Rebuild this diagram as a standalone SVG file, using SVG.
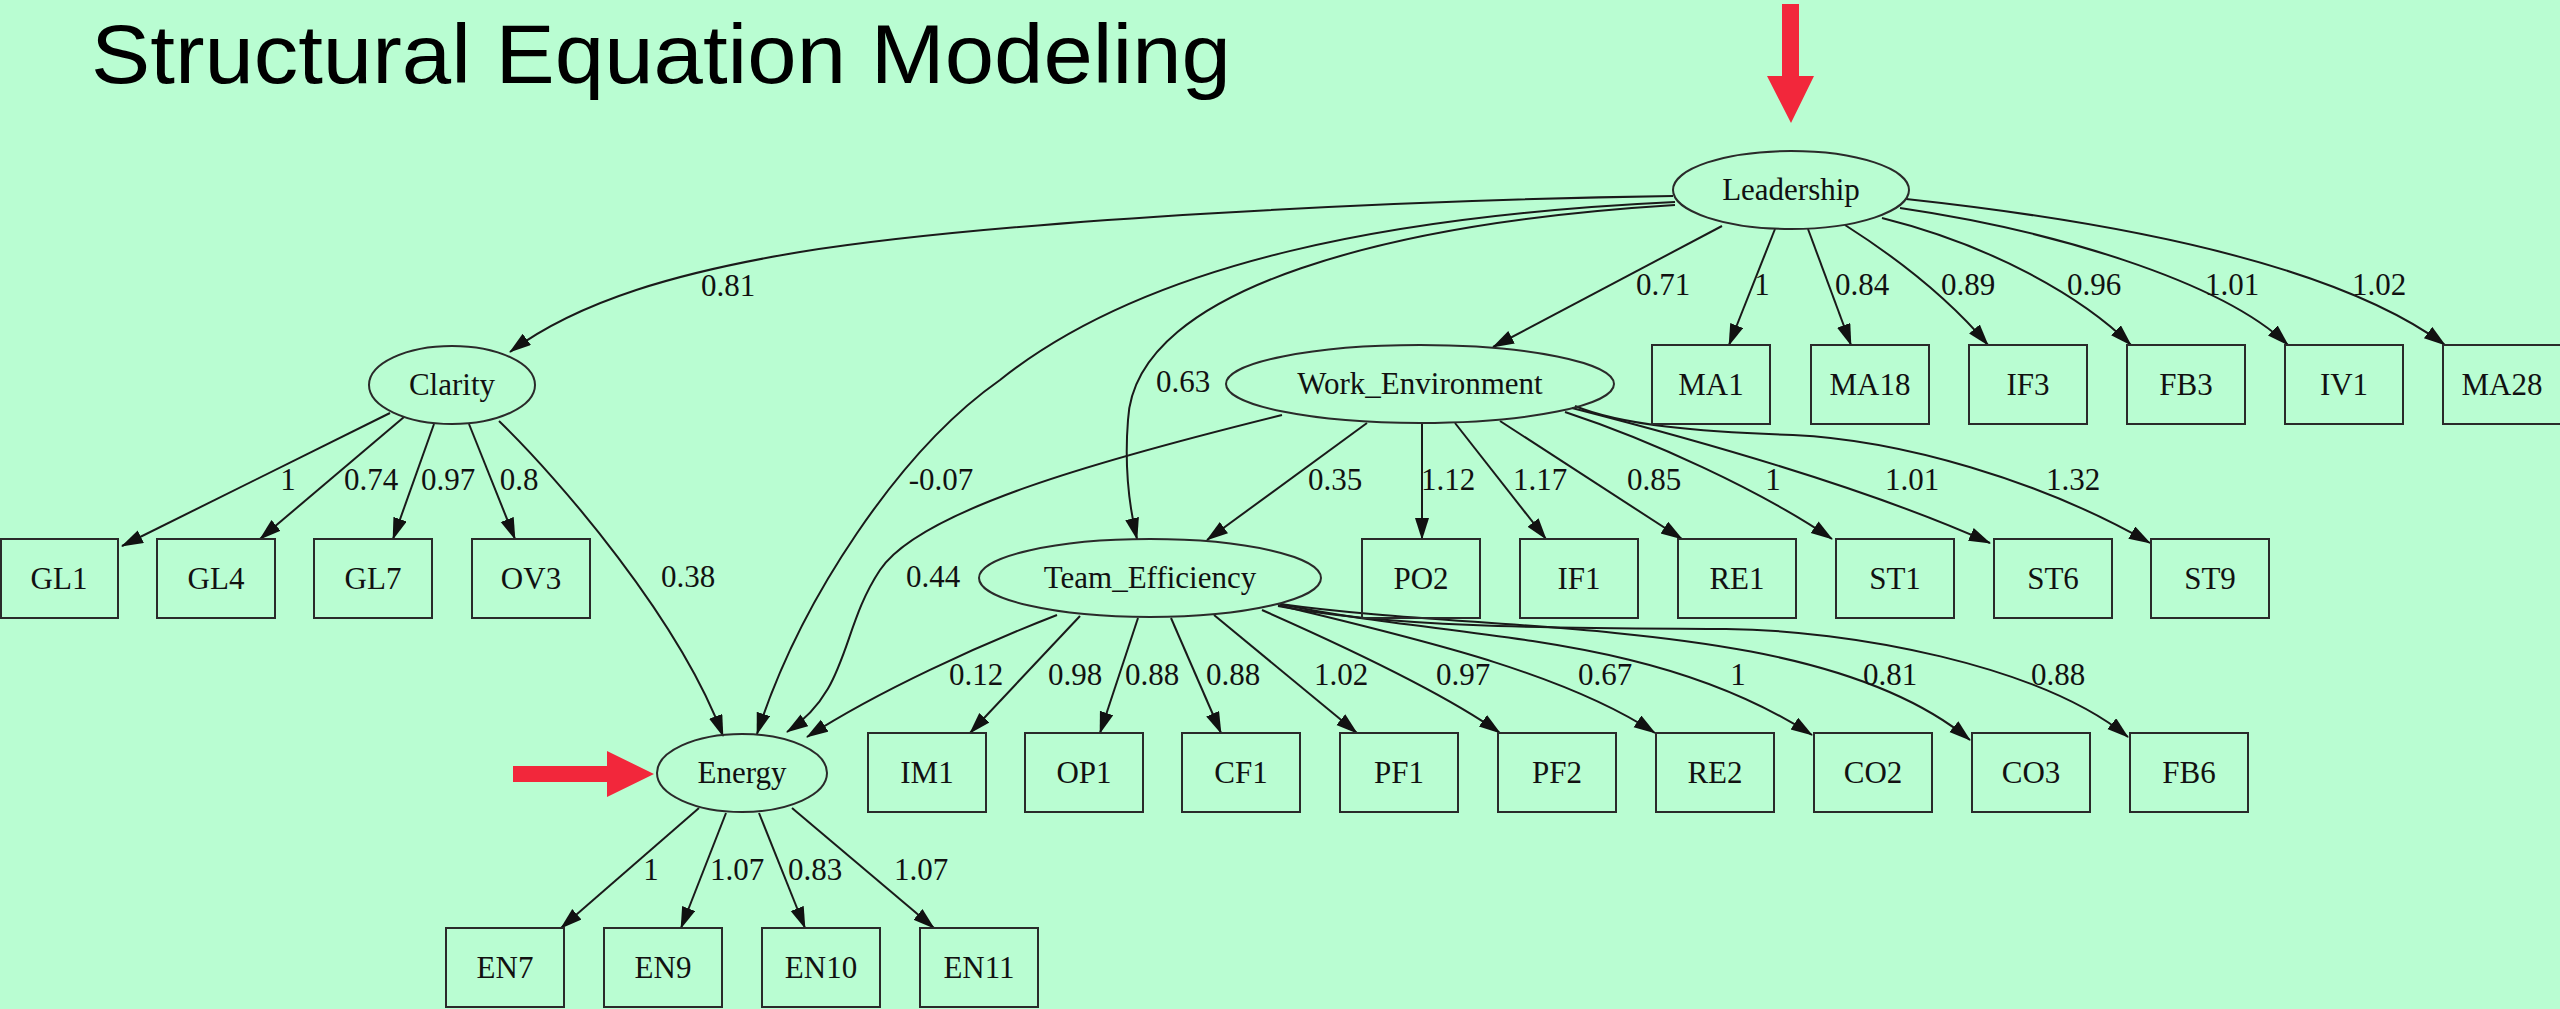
<svg xmlns="http://www.w3.org/2000/svg" width="2560" height="1009" viewBox="0 0 2560 1009">
<defs>
<style>
.bg{fill:#b9fdd2}
.n{fill:none;stroke:#2a2a2a;stroke-width:2}
.t{font-family:"Liberation Serif","Times New Roman",serif;font-size:31px;fill:#111;text-anchor:middle}
.e path{fill:none;stroke:#1a1a1a;stroke-width:2;marker-end:url(#ah)}
.l{font-family:"Liberation Serif","Times New Roman",serif;font-size:31px;fill:#111;text-anchor:middle}
.red{fill:#f2273b}
</style>
<marker id="ah" markerUnits="userSpaceOnUse" markerWidth="24" markerHeight="16" refX="21" refY="7" orient="auto">
<path d="M0,0 L22,7 L0,14 z" fill="#111"/>
</marker>
</defs>
<rect class="bg" x="0" y="0" width="2560" height="1009"/>
<text x="91" y="83" font-family="'Liberation Sans',Arial,sans-serif" font-size="84" fill="#000" textLength="1140" lengthAdjust="spacingAndGlyphs">Structural Equation Modeling</text>

<g id="connectors" class="e">
<path d="M1673,196 C1400,200 1000,220 800,252 C680,272 580,300 510,352"/>
<path d="M1675,202 C1400,215 1150,260 1000,380 C900,450 800,600 757,734"/>
<path d="M1675,205 C1400,222 1135,285 1128,420 C1124,470 1130,510 1137,539"/>
<path d="M1722,226 L1493,347"/>
<path d="M1775,229 L1729,345"/>
<path d="M1808,229 L1851,345"/>
<path d="M1845,225 C1900,260 1950,300 1988,345"/>
<path d="M1882,218 C1990,245 2080,295 2131,345"/>
<path d="M1900,208 C2050,230 2220,280 2288,345"/>
<path d="M1906,199 C2100,220 2330,260 2445,345"/>
<path d="M1367,423 L1207,540"/>
<path d="M1282,415 C1100,460 920,510 880,570 C840,630 850,690 787,732"/>
<path d="M1422,424 L1422,539"/>
<path d="M1455,423 L1546,539"/>
<path d="M1500,421 L1682,539"/>
<path d="M1565,412 C1650,440 1760,490 1832,539"/>
<path d="M1572,408 C1650,428 1850,480 1990,543"/>
<path d="M1575,406 C1620,425 1700,432 1793,435 C1900,440 2040,480 2150,543"/>
<path d="M1057,615 C980,645 880,690 807,737"/>
<path d="M1080,616 L970,733"/>
<path d="M1138,618 L1100,733"/>
<path d="M1171,618 L1221,733"/>
<path d="M1214,615 L1357,733"/>
<path d="M1262,610 C1330,640 1440,690 1500,733"/>
<path d="M1278,605 C1400,635 1560,670 1655,733"/>
<path d="M1280,604 C1450,640 1650,630 1812,735"/>
<path d="M1280,604 C1500,635 1820,615 1970,740"/>
<path d="M1278,606 C1400,630 1600,628 1726,629 C1850,630 2040,665 2128,737"/>
<path d="M699,808 L561,928"/>
<path d="M726,813 L681,928"/>
<path d="M759,813 L805,928"/>
<path d="M792,808 L934,928"/>
<path d="M390,413 L122,546"/>
<path d="M404,417 L260,539"/>
<path d="M434,424 L393,539"/>
<path d="M469,424 L515,539"/>
<path d="M499,421 C560,480 680,620 723,736"/>
</g>

<g id="edge-labels">
<text class="l" x="728" y="296">0.81</text>
<text class="l" x="941" y="490">-0.07</text>
<text class="l" x="1183" y="392">0.63</text>
<text class="l" x="1663" y="295">0.71</text>
<text class="l" x="1762" y="295">1</text>
<text class="l" x="1862" y="295">0.84</text>
<text class="l" x="1968" y="295">0.89</text>
<text class="l" x="2094" y="295">0.96</text>
<text class="l" x="2232" y="295">1.01</text>
<text class="l" x="2379" y="295">1.02</text>
<text class="l" x="1335" y="490">0.35</text>
<text class="l" x="933" y="587">0.44</text>
<text class="l" x="1448" y="490">1.12</text>
<text class="l" x="1540" y="490">1.17</text>
<text class="l" x="1654" y="490">0.85</text>
<text class="l" x="1773" y="490">1</text>
<text class="l" x="1912" y="490">1.01</text>
<text class="l" x="2073" y="490">1.32</text>
<text class="l" x="976" y="685">0.12</text>
<text class="l" x="1075" y="685">0.98</text>
<text class="l" x="1152" y="685">0.88</text>
<text class="l" x="1233" y="685">0.88</text>
<text class="l" x="1341" y="685">1.02</text>
<text class="l" x="1463" y="685">0.97</text>
<text class="l" x="1605" y="685">0.67</text>
<text class="l" x="1738" y="685">1</text>
<text class="l" x="1890" y="685">0.81</text>
<text class="l" x="2058" y="685">0.88</text>
<text class="l" x="651" y="880">1</text>
<text class="l" x="737" y="880">1.07</text>
<text class="l" x="815" y="880">0.83</text>
<text class="l" x="921" y="880">1.07</text>
<text class="l" x="288" y="490">1</text>
<text class="l" x="371" y="490">0.74</text>
<text class="l" x="448" y="490">0.97</text>
<text class="l" x="519" y="490">0.8</text>
<text class="l" x="688" y="587">0.38</text>
</g>

<g id="Leadership"><ellipse class="n" cx="1791" cy="190" rx="118" ry="39"/><text class="t" x="1791" y="200">Leadership</text></g>
<g id="Clarity"><ellipse class="n" cx="452" cy="385" rx="83" ry="39"/><text class="t" x="452" y="395">Clarity</text></g>
<g id="Work_Environment"><ellipse class="n" cx="1420" cy="384" rx="194" ry="39"/><text class="t" x="1420" y="394">Work_Environment</text></g>
<g id="Team_Efficiency"><ellipse class="n" cx="1150" cy="578" rx="171" ry="39"/><text class="t" x="1150" y="588">Team_Efficiency</text></g>
<g id="Energy"><ellipse class="n" cx="742" cy="773" rx="85" ry="39"/><text class="t" x="742" y="783">Energy</text></g>

<g id="MA1"><rect class="n" x="1652" y="345" width="118" height="79"/><text class="t" x="1711" y="395">MA1</text></g>
<g id="MA18"><rect class="n" x="1811" y="345" width="118" height="79"/><text class="t" x="1870" y="395">MA18</text></g>
<g id="IF3"><rect class="n" x="1969" y="345" width="118" height="79"/><text class="t" x="2028" y="395">IF3</text></g>
<g id="FB3"><rect class="n" x="2127" y="345" width="118" height="79"/><text class="t" x="2186" y="395">FB3</text></g>
<g id="IV1"><rect class="n" x="2285" y="345" width="118" height="79"/><text class="t" x="2344" y="395">IV1</text></g>
<g id="MA28"><rect class="n" x="2443" y="345" width="118" height="79"/><text class="t" x="2502" y="395">MA28</text></g>

<g id="GL1"><rect class="n" x="1" y="539" width="117" height="79"/><text class="t" x="59" y="589">GL1</text></g>
<g id="GL4"><rect class="n" x="157" y="539" width="118" height="79"/><text class="t" x="216" y="589">GL4</text></g>
<g id="GL7"><rect class="n" x="314" y="539" width="118" height="79"/><text class="t" x="373" y="589">GL7</text></g>
<g id="OV3"><rect class="n" x="472" y="539" width="118" height="79"/><text class="t" x="531" y="589">OV3</text></g>
<g id="PO2"><rect class="n" x="1362" y="539" width="118" height="79"/><text class="t" x="1421" y="589">PO2</text></g>
<g id="IF1"><rect class="n" x="1520" y="539" width="118" height="79"/><text class="t" x="1579" y="589">IF1</text></g>
<g id="RE1"><rect class="n" x="1678" y="539" width="118" height="79"/><text class="t" x="1737" y="589">RE1</text></g>
<g id="ST1"><rect class="n" x="1836" y="539" width="118" height="79"/><text class="t" x="1895" y="589">ST1</text></g>
<g id="ST6"><rect class="n" x="1994" y="539" width="118" height="79"/><text class="t" x="2053" y="589">ST6</text></g>
<g id="ST9"><rect class="n" x="2151" y="539" width="118" height="79"/><text class="t" x="2210" y="589">ST9</text></g>

<g id="IM1"><rect class="n" x="868" y="733" width="118" height="79"/><text class="t" x="927" y="783">IM1</text></g>
<g id="OP1"><rect class="n" x="1025" y="733" width="118" height="79"/><text class="t" x="1084" y="783">OP1</text></g>
<g id="CF1"><rect class="n" x="1182" y="733" width="118" height="79"/><text class="t" x="1241" y="783">CF1</text></g>
<g id="PF1"><rect class="n" x="1340" y="733" width="118" height="79"/><text class="t" x="1399" y="783">PF1</text></g>
<g id="PF2"><rect class="n" x="1498" y="733" width="118" height="79"/><text class="t" x="1557" y="783">PF2</text></g>
<g id="RE2"><rect class="n" x="1656" y="733" width="118" height="79"/><text class="t" x="1715" y="783">RE2</text></g>
<g id="CO2"><rect class="n" x="1814" y="733" width="118" height="79"/><text class="t" x="1873" y="783">CO2</text></g>
<g id="CO3"><rect class="n" x="1972" y="733" width="118" height="79"/><text class="t" x="2031" y="783">CO3</text></g>
<g id="FB6"><rect class="n" x="2130" y="733" width="118" height="79"/><text class="t" x="2189" y="783">FB6</text></g>

<g id="EN7"><rect class="n" x="446" y="928" width="118" height="79"/><text class="t" x="505" y="978">EN7</text></g>
<g id="EN9"><rect class="n" x="604" y="928" width="118" height="79"/><text class="t" x="663" y="978">EN9</text></g>
<g id="EN10"><rect class="n" x="762" y="928" width="118" height="79"/><text class="t" x="821" y="978">EN10</text></g>
<g id="EN11"><rect class="n" x="920" y="928" width="118" height="79"/><text class="t" x="979" y="978">EN11</text></g>

<g id="red-arrows">
<path class="red" d="M1782,4 H1799 V76 H1814 L1791,123 L1767,76 H1782 Z"/>
<path class="red" d="M513,766 H607 V751 L654,774 L607,797 V782 H513 Z"/>
</g>
</svg>
